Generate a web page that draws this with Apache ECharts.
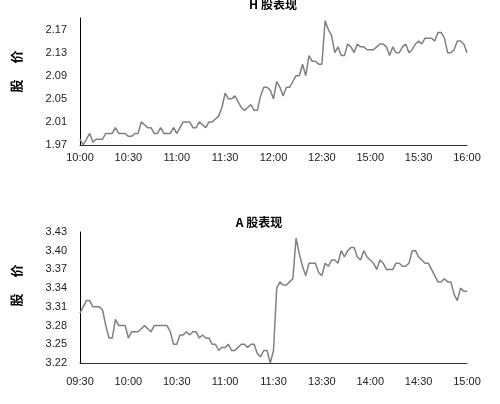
<!DOCTYPE html>
<html><head><meta charset="utf-8">
<script src="https://cdn.jsdelivr.net/npm/echarts@6/dist/echarts.min.js"></script>
<style>html,body{margin:0;padding:0;background:#fff}#c{width:500px;height:404px}</style>
</head><body><div id="c"></div>
<script>
var hTitle = 'H 股表现';
var aTitle = 'A 股表现';
var yName = '股　 价';
var hTickLabels = ['10:00','10:30','11:00','11:30','12:00','12:30','15:00','15:30','16:00'];
var aTickLabels = ['09:30','10:00','10:30','11:00','11:30','13:30','14:00','14:30','15:00'];
var pointsPerTick = 15;
var hPrices = [1.98,1.97,1.98,1.99,1.975,1.98,1.98,1.98,1.99,1.99,
 1.99,2.00,1.99,1.99,1.99,1.985,1.985,1.99,1.99,2.01,
 2.005,2.00,2.00,1.99,1.99,2.00,1.99,1.99,1.99,2.00,
 1.99,2.00,2.01,2.01,2.01,2.00,2.00,2.01,2.005,2.00,
 2.01,2.01,2.015,2.02,2.035,2.06,2.05,2.05,2.055,2.045,
 2.035,2.03,2.035,2.04,2.03,2.03,2.055,2.07,2.07,2.065,
 2.05,2.08,2.07,2.055,2.07,2.07,2.08,2.09,2.09,2.11,
 2.09,2.125,2.115,2.115,2.11,2.11,2.185,2.17,2.16,2.13,
 2.14,2.125,2.125,2.145,2.14,2.13,2.145,2.14,2.14,2.135,
 2.135,2.135,2.14,2.145,2.145,2.14,2.125,2.14,2.13,2.13,
 2.14,2.145,2.13,2.135,2.145,2.15,2.145,2.155,2.155,2.155,
 2.15,2.165,2.165,2.155,2.13,2.13,2.135,2.15,2.15,2.145,
 2.13];
var aPrices = [3.30,3.31,3.32,3.32,3.31,3.31,3.31,3.305,3.28,3.26,
 3.26,3.29,3.28,3.28,3.28,3.26,3.27,3.27,3.27,3.275,
 3.28,3.275,3.27,3.28,3.28,3.28,3.28,3.28,3.27,3.25,
 3.25,3.265,3.265,3.27,3.265,3.27,3.27,3.26,3.265,3.26,
 3.26,3.25,3.25,3.24,3.245,3.245,3.25,3.24,3.24,3.245,
 3.25,3.25,3.245,3.25,3.25,3.235,3.23,3.24,3.24,3.22,
 3.24,3.34,3.35,3.345,3.345,3.35,3.355,3.42,3.395,3.375,
 3.36,3.38,3.38,3.38,3.365,3.36,3.38,3.375,3.385,3.385,
 3.38,3.40,3.39,3.40,3.405,3.405,3.39,3.385,3.40,3.39,
 3.385,3.38,3.37,3.385,3.38,3.37,3.37,3.37,3.38,3.38,
 3.375,3.375,3.38,3.40,3.40,3.39,3.385,3.38,3.38,3.37,
 3.36,3.35,3.35,3.355,3.35,3.35,3.33,3.32,3.34,3.335,
 3.335];
var hAxis = {min:1.97, max:2.19, interval:0.04};
var aAxis = {min:3.22, max:3.43, interval:0.03};

function cats(n, labels){
  var out=[];
  for(var i=0;i<n;i++){ out.push(i%pointsPerTick===0 ? labels[i/pointsPerTick] : ''); }
  return out;
}
var chart = echarts.init(document.getElementById('c'));
var numFont = {fontFamily:'Liberation Sans, Arial, sans-serif', fontSize:11, color:'#222'};
function yAx(idx, ax, pad){
  return {type:'value', gridIndex:idx, min:ax.min, max:ax.max, interval:ax.interval,
    name: yName, nameLocation:'middle', nameRotate:90, nameGap:57,
    nameTextStyle:{fontFamily:'Noto Sans CJK SC', fontWeight:'bold', fontSize:13, color:'#000', padding:pad},
    axisLine:{show:true, lineStyle:{color:'#000', width:1}},
    axisTick:{show:false}, splitLine:{show:false},
    axisLabel:Object.assign({margin:13, showMaxLabel: idx===0 ? false : true, formatter:function(v){return v.toFixed(2);}}, numFont)
  };
}
function xAx(idx, labels, margin){
  return {type:'category', gridIndex:idx, boundaryGap:false, data:cats(121, labels),
    axisLine:{lineStyle:{color:'#333', width:1}}, axisTick:{show:false},
    axisLabel:Object.assign({interval:0, margin:margin}, numFont)};
}
chart.setOption({
  animation:false,
  title:[
    {text:hTitle, left:268, top:-7, textAlign:'center', textStyle:{fontFamily:'Noto Sans CJK SC', fontWeight:'bold', fontSize:12, color:'#000'}},
    {text:aTitle, left:254, top:211, textAlign:'center', textStyle:{fontFamily:'Noto Sans CJK SC', fontWeight:'bold', fontSize:12, color:'#000'}}
  ],
  grid:[
    {left:80, top:18, width:387, height:127},
    {left:80, top:232, width:387, height:131}
  ],
  xAxis:[xAx(0, hTickLabels, 7), xAx(1, aTickLabels, 13)],
  yAxis:[yAx(0, hAxis, [0,0,0,20]), yAx(1, aAxis, [0,0,0,24])],
  series:[
    {type:'line', xAxisIndex:0, yAxisIndex:0, data:hPrices, symbol:'none', lineStyle:{color:'#808080', width:1.5}},
    {type:'line', xAxisIndex:1, yAxisIndex:1, data:aPrices, symbol:'none', lineStyle:{color:'#808080', width:1.5}}
  ]
});
</script></body></html>
